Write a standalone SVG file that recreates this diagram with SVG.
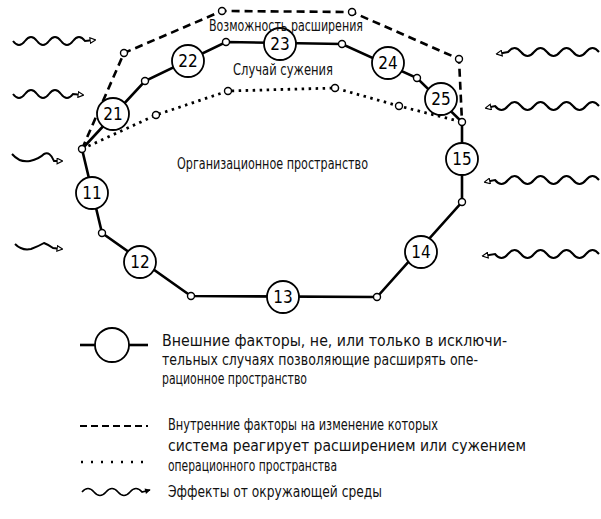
<svg xmlns="http://www.w3.org/2000/svg" width="601" height="519" viewBox="0 0 601 519">
<defs>
<marker id="oa" viewBox="0 0 10 10" refX="8" refY="5" markerWidth="7" markerHeight="7" orient="auto" markerUnits="userSpaceOnUse">
<path d="M1,1 L9,5 L1,9 Z" fill="#fff" stroke="#000" stroke-width="1.6"/>
</marker>
<marker id="fa" viewBox="0 0 10 10" refX="8" refY="5" markerWidth="7" markerHeight="7" orient="auto" markerUnits="userSpaceOnUse">
<path d="M1,1 L9,5 L1,9 Z" fill="#000"/>
</marker>
</defs>
<style>
.solid{fill:none;stroke:#000;stroke-width:2.6}
.dash{fill:none;stroke:#000;stroke-width:2.6;stroke-dasharray:8 5}
.dot{fill:none;stroke:#000;stroke-width:2.8;stroke-dasharray:2.5 4.5}
.wave{fill:none;stroke:#000;stroke-width:2;marker-end:url(#oa)}
.node circle{fill:#fff;stroke:#000;stroke-width:1.8}
.node text{font-family:"DejaVu Sans","Liberation Sans",sans-serif;font-stretch:condensed;font-size:17px;text-anchor:middle}
.pt{fill:#fff;stroke:#000;stroke-width:1.4}
.lbl{font-family:"DejaVu Sans","Liberation Sans",sans-serif;font-stretch:condensed;font-size:15px;fill:#111}
.lg{font-family:"DejaVu Sans","Liberation Sans",sans-serif;font-stretch:condensed;font-size:15px;fill:#111}
</style>
<rect width="601" height="519" fill="#fff"/>
<g id="connectors">
<polyline class="dash" points="82,149 124,53 222,11 352,12 459,59 462,122"/>
<polyline class="dot" points="82,149 156,115 228,91 335,88 399,106 462,122"/>
<polygon class="solid" points="82,149 145,81 226,42 342,44 417,78 462,122 462,202 377,297 191,296 102,233"/>
<g id="points">
<circle class="pt" cx="82" cy="149" r="3.5"/>
<circle class="pt" cx="124" cy="53" r="3.5"/>
<circle class="pt" cx="222" cy="11" r="3.5"/>
<circle class="pt" cx="352" cy="12" r="3.5"/>
<circle class="pt" cx="459" cy="59" r="3.5"/>
<circle class="pt" cx="156" cy="115" r="3.5"/>
<circle class="pt" cx="228" cy="91" r="3.5"/>
<circle class="pt" cx="335" cy="88" r="3.5"/>
<circle class="pt" cx="399" cy="106" r="3.5"/>
<circle class="pt" cx="145" cy="81" r="3.5"/>
<circle class="pt" cx="226" cy="42" r="3.5"/>
<circle class="pt" cx="342" cy="44" r="3.5"/>
<circle class="pt" cx="417" cy="78" r="3.5"/>
<circle class="pt" cx="462" cy="122" r="3.5"/>
<circle class="pt" cx="462" cy="202" r="3.5"/>
<circle class="pt" cx="377" cy="297" r="3.5"/>
<circle class="pt" cx="191" cy="296" r="3.5"/>
<circle class="pt" cx="102" cy="233" r="3.5"/>
</g>
<g id="waves">
<path class="wave" d="M13,41 q6,8 12,0 t12,0 t12,0 t12,0 t12,0 t12,0 l10,-1"/>
<path class="wave" d="M13,94 q6,8 12,0 t12,0 t12,0 t12,0 t12,0 l10,1"/>
<path class="wave" d="M12,154 q8,9 18,7 q9,-2 14,-7 q6,-3 10,7 l8,0"/>
<path class="wave" d="M15,244 q7,7 16,5 q8,-3 13,-6 q5,2 9,5 l9,1"/>
<path class="wave" d="M599,52 q-6.5,-8 -13,0 t-13,0 t-13,0 t-13,0 t-13,0 t-13,0 t-13,0 l-11,2"/>
<path class="wave" d="M599,106 q-6.5,-8 -13,0 t-13,0 t-13,0 t-13,0 t-13,0 t-13,0 t-13,0 t-13,0 l-9,2"/>
<path class="wave" d="M599,180 q-6.5,-8 -13,0 t-13,0 t-13,0 t-13,0 t-13,0 t-13,0 t-13,0 t-13,0 l-10,2"/>
<path class="wave" d="M599,254 q-6.5,-8 -13,0 t-13,0 t-13,0 t-13,0 t-13,0 t-13,0 t-13,0 t-13,0 l-12,2"/>
</g>
</g>
<g id="n21" class="node"><circle cx="113" cy="114" r="16"/><text x="113" y="120">21</text></g>
<g id="n22" class="node"><circle cx="188" cy="61" r="16"/><text x="188" y="67">22</text></g>
<g id="n23" class="node"><circle cx="280" cy="44" r="16"/><text x="280" y="50">23</text></g>
<g id="n24" class="node"><circle cx="388" cy="63" r="16"/><text x="388" y="69">24</text></g>
<g id="n25" class="node"><circle cx="441" cy="99" r="16"/><text x="441" y="105">25</text></g>
<g id="n15" class="node"><circle cx="462" cy="159" r="16"/><text x="462" y="165">15</text></g>
<g id="n14" class="node"><circle cx="421" cy="252" r="16"/><text x="421" y="258">14</text></g>
<g id="n13" class="node"><circle cx="283" cy="297" r="16"/><text x="283" y="303">13</text></g>
<g id="n12" class="node"><circle cx="140" cy="262" r="16"/><text x="140" y="268">12</text></g>
<g id="n11" class="node"><circle cx="92" cy="193" r="16"/><text x="92" y="199">11</text></g>
<g id="labels">
<text class="lbl" x="209" y="31" textLength="154" lengthAdjust="spacingAndGlyphs">Возможность расширения</text>
<text class="lbl" x="233" y="75" textLength="100" lengthAdjust="spacingAndGlyphs">Случай сужения</text>
<text class="lbl" x="177" y="169" textLength="191" lengthAdjust="spacingAndGlyphs">Организационное пространство</text>
</g>
<g id="legend">
<line class="solid" x1="80" y1="345" x2="96" y2="345"/>
<circle cx="112" cy="345" r="17" fill="#fff" stroke="#000" stroke-width="1.8"/>
<line class="solid" x1="129" y1="345" x2="148" y2="345"/>
<text class="lg" x="162" y="346" textLength="345" lengthAdjust="spacingAndGlyphs">Внешние факторы, не, или только в исключи-</text>
<text class="lg" x="162" y="365" textLength="316" lengthAdjust="spacingAndGlyphs">тельных случаях позволяющие расширять опе-</text>
<text class="lg" x="162" y="384" textLength="145" lengthAdjust="spacingAndGlyphs">рационное пространство</text>
<line class="dash" x1="80" y1="426" x2="148" y2="426" style="stroke-width:2.2;stroke-dasharray:7 4"/>
<line class="dot" x1="81" y1="462" x2="148" y2="462" style="stroke-width:2.4;stroke-dasharray:2 8"/>
<text class="lg" x="168" y="430" textLength="270" lengthAdjust="spacingAndGlyphs">Внутренние факторы на изменение которых</text>
<text class="lg" x="168" y="451" textLength="358" lengthAdjust="spacingAndGlyphs">система реагирует расширением или сужением</text>
<text class="lg" x="168" y="471" textLength="169" lengthAdjust="spacingAndGlyphs">операционного пространства</text>
<path d="M82,492 q6,-7 12,0 t12,0 t12,0 t12,0 t12,0 l8,-2" fill="none" stroke="#000" stroke-width="1.6" marker-end="url(#fa)"/>
<text class="lg" x="168" y="497" textLength="214" lengthAdjust="spacingAndGlyphs">Эффекты от окружающей среды</text>
</g>
</svg>
